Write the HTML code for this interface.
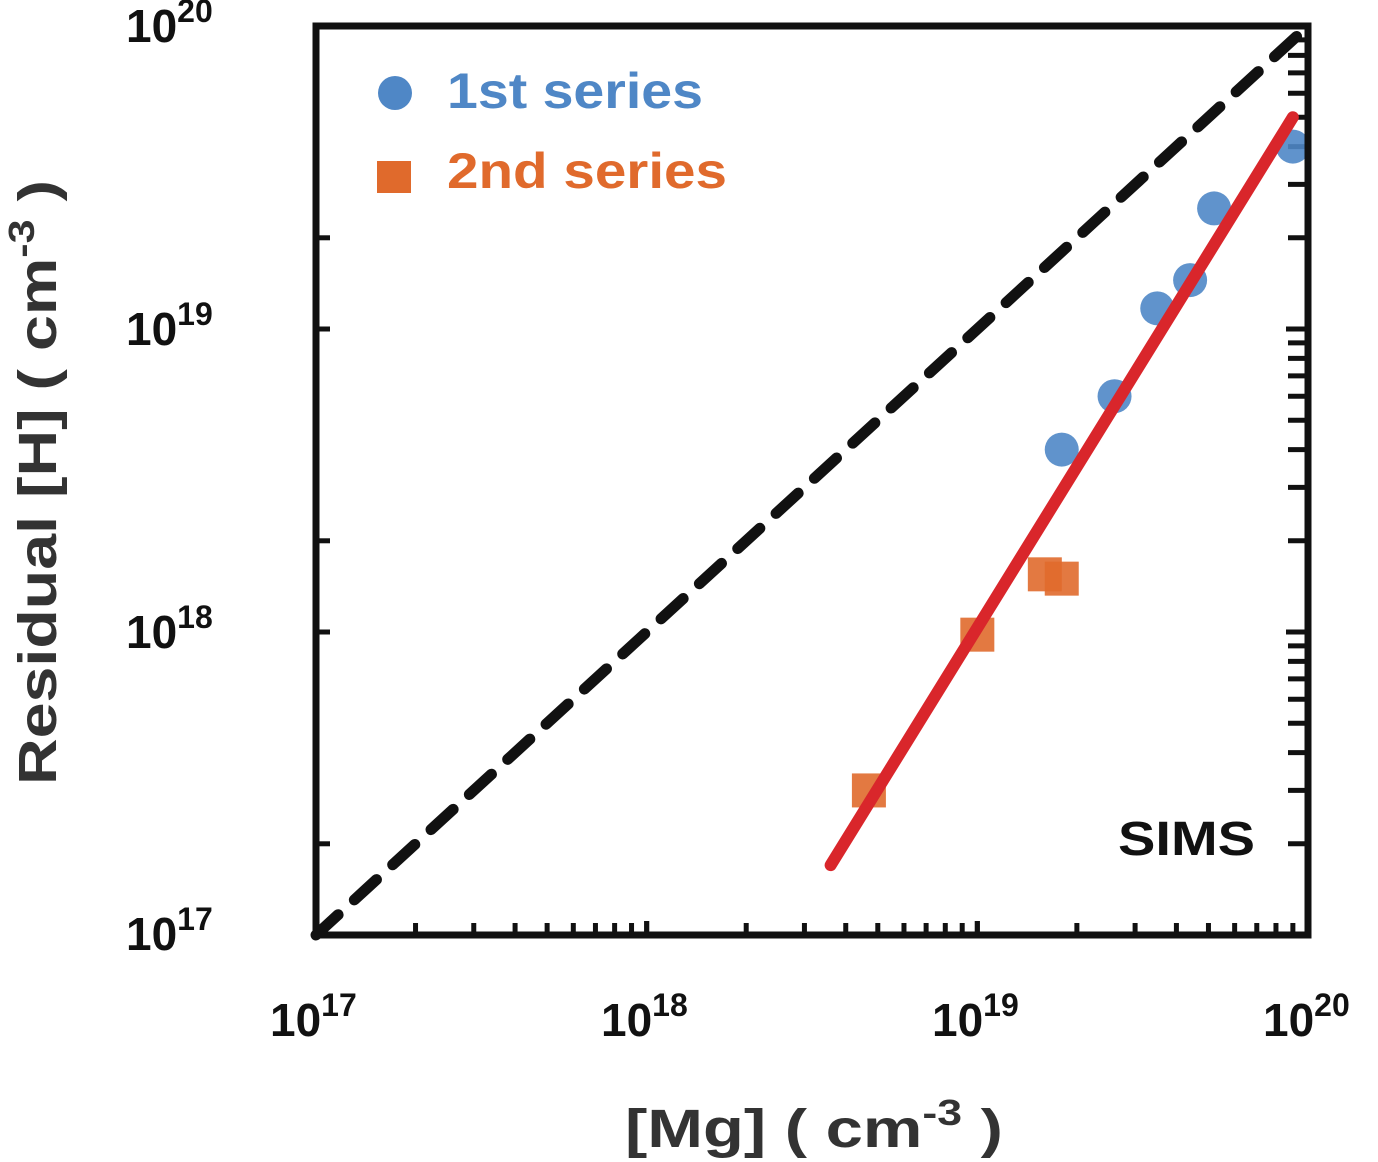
<!DOCTYPE html>
<html><head><meta charset="utf-8"><style>
html,body{margin:0;padding:0;background:#fff;}
svg{display:block;font-family:"Liberation Sans",sans-serif;font-weight:bold;}
</style></head><body>
<svg id="chart" width="1378" height="1162" viewBox="0 0 1378 1162" xmlns="http://www.w3.org/2000/svg">
<g id="ticks"></g>
<g id="lines"></g>
<g id="marks"></g>
<rect x="316" y="26" width="992" height="909" fill="none" stroke="#111" stroke-width="7"/>
<g font-size="46" fill="#111">
<text x="270" y="1036">10<tspan font-size="32" dy="-20">17</tspan></text>
<text x="601" y="1036">10<tspan font-size="32" dy="-20">18</tspan></text>
<text x="932" y="1036">10<tspan font-size="32" dy="-20">19</tspan></text>
<text x="1263" y="1036">10<tspan font-size="32" dy="-20">20</tspan></text>
</g>
<g font-size="46" fill="#111">
<text x="126" y="950">10<tspan font-size="32" dy="-20">17</tspan></text>
<text x="126" y="648">10<tspan font-size="32" dy="-20">18</tspan></text>
<text x="126" y="345">10<tspan font-size="32" dy="-20">19</tspan></text>
<text x="126" y="42">10<tspan font-size="32" dy="-20">20</tspan></text>
</g>
<text x="625" y="1147" textLength="378" lengthAdjust="spacingAndGlyphs" font-size="54" fill="#333">[Mg] ( cm<tspan font-size="36" dy="-22">-3</tspan><tspan dy="22"> )</tspan></text>
<text transform="translate(56,785) rotate(-90)" textLength="605" lengthAdjust="spacingAndGlyphs" font-size="54" fill="#333">Residual [H] ( cm<tspan font-size="36" dy="-22">-3</tspan><tspan dy="22"> )</tspan></text>
<text x="1118" y="855" textLength="137" lengthAdjust="spacingAndGlyphs" font-size="48" fill="#111">SIMS</text>
<g>
<circle cx="395" cy="93" r="17" fill="#4f87c6"/>
<text x="447" y="108" textLength="256" lengthAdjust="spacingAndGlyphs" font-size="50" fill="#4f87c6">1st series</text>
<rect x="377" y="161" width="34" height="32" fill="#e06a2c"/>
<text x="447" y="188" textLength="280" lengthAdjust="spacingAndGlyphs" font-size="50" fill="#e06a2c">2nd series</text>
</g>
</svg>
<script>
const series1X = [1.8e19, 2.6e19, 3.5e19, 4.4e19, 5.2e19, 9.0e19];
const series1Y = [4.0e18, 6.0e18, 1.17e19, 1.45e19, 2.5e19, 4.0e19];
const series2X = [4.7e18, 1.0e19, 1.6e19, 1.8e19];
const series2Y = [3.0e17, 9.8e17, 1.55e18, 1.5e18];
const fitX = [3.6e18, 9.0e19];
const fitY = [1.7e17, 5.0e19];
const refX = [1e17, 1e20];
const refY = [1e17, 1e20];
const decades = [17, 18, 19, 20];

const X0=316, X1=1308, Y0=935, Y1=26;
function sx(v){return X0+(Math.log10(v)-17)/3*(X1-X0);}
function sy(v){return Y0-(Math.log10(v)-17)/3*(Y0-Y1);}
const NS='http://www.w3.org/2000/svg';
function mk(tag, attrs, parent){const e=document.createElementNS(NS,tag);for(const k in attrs)e.setAttribute(k,attrs[k]);parent.appendChild(e);return e;}

const tg=document.getElementById('ticks');
for(let d=17; d<20; d++){
  for(let m=1; m<=10; m++){
    const v=m*Math.pow(10,d);
    const len=(m===1||m===10)?14:12;
    const x=sx(v);
    const t1=mk('line',{x1:x,y1:Y0,x2:x,y2:Y0-len,stroke:'#111','stroke-width':5},tg);
    
    
    const y=sy(v);
    const t2=mk('line',{x1:X1,y1:y,x2:X1-len-8,y2:y,stroke:'#111','stroke-width':5},tg);
    
    
    if(m===2||m===1){
      const t3=mk('line',{x1:X0,y1:y,x2:X0+14,y2:y,stroke:'#111','stroke-width':5},tg);
      
      
    }
  }
}
const lg=document.getElementById('lines');
const ref=mk('line',{x1:sx(refX[0]),y1:sy(refY[0]),x2:sx(refX[1]),y2:sy(refY[1]),stroke:'#111','stroke-width':11,'stroke-dasharray':'30 22','stroke-linecap':'round'},lg);


const fit=mk('line',{x1:sx(fitX[0]),y1:sy(fitY[0]),x2:sx(fitX[1]),y2:sy(fitY[1]),stroke:'#d9262b','stroke-width':12,'stroke-linecap':'round'},lg);



const mg=document.getElementById('marks');
series2X.forEach((v,i)=>{
  const r=mk('rect',{x:sx(v)-17,y:sy(series2Y[i])-17,width:34,height:34,fill:'#e06a2c','fill-opacity':0.9},mg);
  
  
});
series1X.forEach((v,i)=>{
  const c=mk('circle',{cx:sx(v),cy:sy(series1Y[i]),r:17,fill:'#4f87c6','fill-opacity':0.9},mg);
  
  
});
lg.parentNode.insertBefore(mg, lg);
</script>
</body></html>
